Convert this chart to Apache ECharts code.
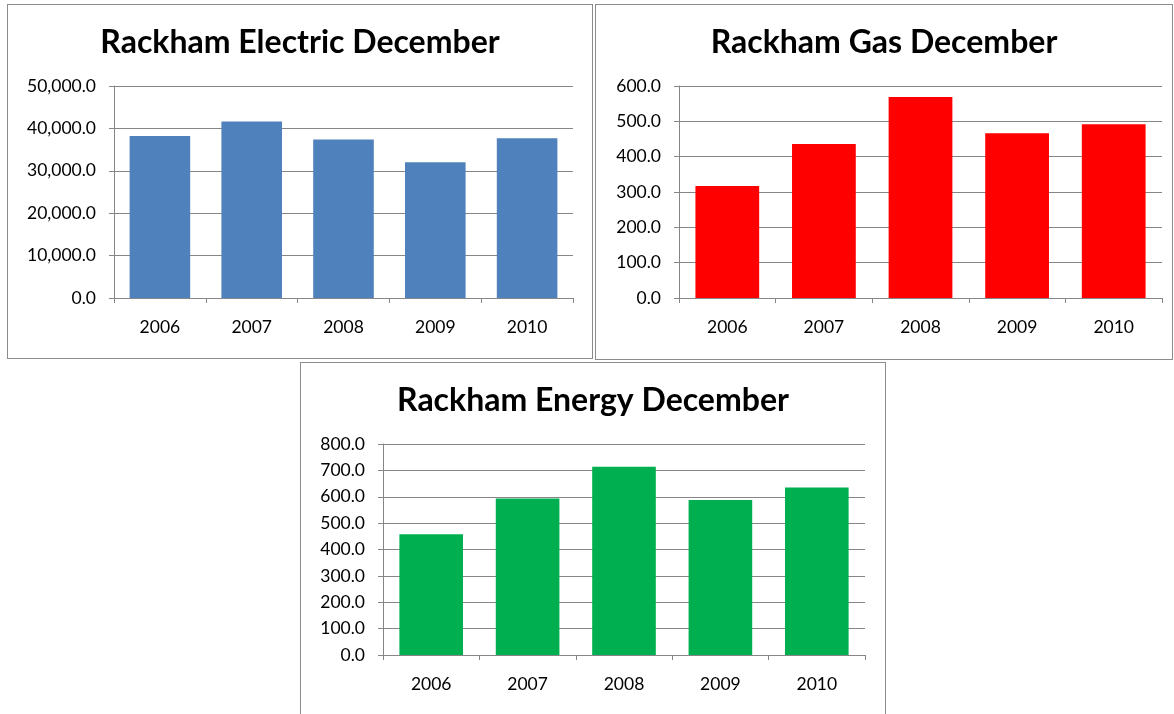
<!DOCTYPE html>
<html>
<head>
<meta charset="utf-8">
<script src="https://cdn.jsdelivr.net/npm/echarts@6/dist/echarts.min.js"></script>
<style>
  body { margin: 0; background: #fff; width: 1174px; height: 714px; overflow: hidden; position: relative; }
  .panel { position: absolute; border: 1px solid #8c8c8c; box-sizing: border-box; background: #fff; }
</style>
</head>
<body>
<div id="electric" class="panel" style="left:7px;top:4px;width:586px;height:355px"></div>
<div id="gas" class="panel" style="left:595px;top:4px;width:578px;height:356px"></div>
<div id="energy" class="panel" style="left:300px;top:362px;width:586px;height:360px"></div>
<script>
// years on the x axis
const years = ['2006', '2007', '2008', '2009', '2010'];

// December usage
const electricValues = [38200, 41600, 37400, 32000, 37700];
const gasValues = [317, 436, 569, 466, 492];
const energyValues = [458, 593, 714, 588, 635];

const electricTicks = { max: 50000, interval: 10000 };
const gasTicks = { max: 600, interval: 100 };
const energyTicks = { max: 800, interval: 100 };

const fontFam = 'Lato, "Open Sans", sans-serif';

function fmt(v) {
  return Number(v).toLocaleString('en-US', { minimumFractionDigits: 1, maximumFractionDigits: 1 });
}

function makeChart(id, title, values, ticks, color, grid) {
  const chart = echarts.init(document.getElementById(id));
  chart.setOption({
    animation: false,
    title: {
      text: title,
      left: 'center',
      top: 17,
      textStyle: { fontFamily: fontFam, fontSize: 32, fontWeight: 'bold', color: '#000' }
    },
    grid: grid,
    xAxis: {
      type: 'category',
      data: years,
      boundaryGap: true,
      axisLine: { lineStyle: { color: '#868686', width: 1 } },
      axisTick: { show: true, length: 5, alignWithLabel: false, lineStyle: { color: '#868686' } },
      axisLabel: { fontFamily: fontFam, fontSize: 17.5, color: '#000', margin: 20 }
    },
    yAxis: {
      type: 'value',
      min: 0,
      max: ticks.max,
      interval: ticks.interval,
      axisLine: { show: true, lineStyle: { color: '#868686', width: 1 } },
      axisTick: { show: true, length: 5, inside: false, lineStyle: { color: '#868686' } },
      splitLine: { show: true, lineStyle: { color: '#868686', width: 1 } },
      axisLabel: { fontFamily: fontFam, fontSize: 17.5, color: '#000', margin: 18, formatter: fmt }
    },
    series: [{
      type: 'bar',
      data: values,
      barCategoryGap: '34%',
      itemStyle: { color: color }
    }]
  });
}

makeChart('electric', 'Rackham Electric December', electricValues, electricTicks, '#4F81BD',
  { left: 106, top: 81, width: 459, height: 212 });
makeChart('gas', 'Rackham Gas December', gasValues, gasTicks, '#FF0000',
  { left: 83, top: 81, width: 483, height: 212 });
makeChart('energy', 'Rackham Energy December', energyValues, energyTicks, '#00B050',
  { left: 82, top: 81, width: 482, height: 211 });
</script>
</body>
</html>
